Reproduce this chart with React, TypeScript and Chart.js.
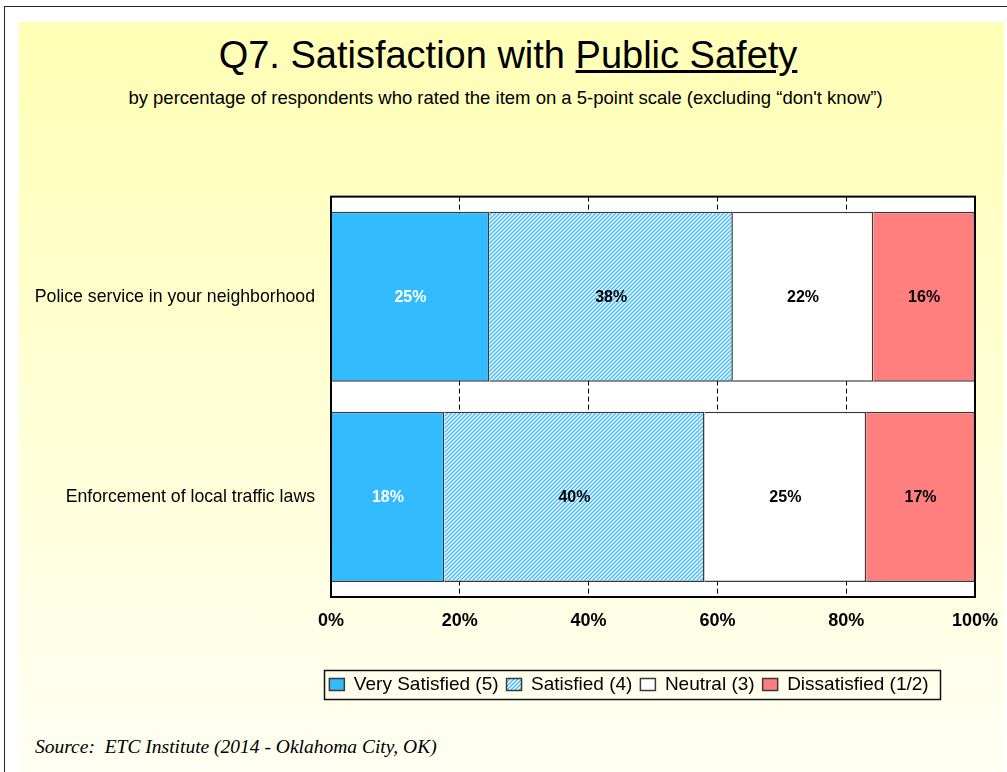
import React, { useEffect, useRef } from "react";
import { Chart, registerables } from "chart.js";

Chart.register(...registerables);

const categories = ["Police service in your neighborhood", "Enforcement of local traffic laws"];
const seriesLabels = ["Very Satisfied (5)", "Satisfied (4)", "Neutral (3)", "Dissatisfied (1/2)"];
const verySatisfied = [24.6, 17.6];
const satisfied = [37.8, 40.4];
const neutral = [21.8, 25.1];
const dissatisfied = [15.8, 16.9];
const xTickValues = [0, 20, 40, 60, 80, 100];

const FONT = "Arial, 'Liberation Sans', sans-serif";
const LEGEND_CENTER_X = 610; // canvas px

function makeHatch(): CanvasPattern | string {
  const c = document.createElement("canvas");
  c.width = 4;
  c.height = 4;
  const g = c.getContext("2d");
  if (!g) return "#33bbff";
  g.fillStyle = "#ffffff";
  g.fillRect(0, 0, 4, 4);
  g.strokeStyle = "#33bbff";
  g.lineWidth = 1.3;
  g.beginPath();
  g.moveTo(-1, 5);
  g.lineTo(5, -1);
  g.moveTo(-1, 1);
  g.lineTo(1, -1);
  g.moveTo(3, 5);
  g.lineTo(5, 3);
  g.stroke();
  const p = g.createPattern(c, "repeat");
  return p || "#33bbff";
}

const framePlugin = {
  id: "frame",
  afterLayout(chart: any) {
    const lg = chart.legend;
    if (lg) {
      const shift = LEGEND_CENTER_X - (lg.left + lg.right) / 2;
      lg.left += shift;
      lg.right += shift;
    }
  },
  beforeDraw(chart: any) {
    const { ctx, chartArea } = chart;
    ctx.save();
    ctx.fillStyle = "#ffffff";
    ctx.fillRect(chartArea.left, chartArea.top, chartArea.right - chartArea.left, chartArea.bottom - chartArea.top);
    ctx.restore();
  },
  afterDraw(chart: any) {
    const { ctx, chartArea } = chart;
    ctx.save();
    ctx.strokeStyle = "#000";
    ctx.lineWidth = 2;
    ctx.strokeRect(chartArea.left, chartArea.top, chartArea.right - chartArea.left, chartArea.bottom - chartArea.top);
    const lg = chart.legend;
    if (lg && lg.legendHitBoxes && lg.legendHitBoxes.length) {
      const hb = lg.legendHitBoxes;
      let l = Infinity, r = -Infinity, t = Infinity, b = -Infinity;
      hb.forEach((h: any) => {
        l = Math.min(l, h.left);
        r = Math.max(r, h.left + h.width);
        t = Math.min(t, h.top);
        b = Math.max(b, h.top + h.height);
      });
      const cy = (t + b) / 2;
      ctx.lineWidth = 1.5;
      ctx.strokeStyle = "#111";
      ctx.strokeRect(Math.round(l - 5) + 0.5, Math.round(cy - 14.5) + 0.5, Math.round(r - l + 17), 29);
    }
    ctx.restore();
  },
};

const valueLabelPlugin = {
  id: "valueLabels",
  afterDatasetsDraw(chart: any) {
    const ctx = chart.ctx;
    ctx.save();
    ctx.font = `bold 16px ${FONT}`;
    ctx.textAlign = "center";
    ctx.textBaseline = "middle";
    chart.data.datasets.forEach((ds: any, i: number) => {
      const meta = chart.getDatasetMeta(i);
      meta.data.forEach((el: any, j: number) => {
        const v = ds.data[j];
        const pt = el.getCenterPoint();
        ctx.fillStyle = i === 0 ? "#ffffff" : "#000000";
        ctx.fillText(Math.round(v) + "%", pt.x, pt.y + 1);
      });
    });
    ctx.restore();
  },
};

export default function App() {
  const ref = useRef<HTMLCanvasElement | null>(null);

  useEffect(() => {
    if (!ref.current) return;
    const hatch = makeHatch();
    const border = "#3a3a3a";
    const chart = new Chart(ref.current, {
      type: "bar",
      data: {
        labels: categories,
        datasets: [
          { label: seriesLabels[0], data: verySatisfied, backgroundColor: "#33bbff", borderColor: border, borderWidth: 1.5 },
          { label: seriesLabels[1], data: satisfied, backgroundColor: hatch as any, borderColor: border, borderWidth: 1.5 },
          { label: seriesLabels[2], data: neutral, backgroundColor: "#ffffff", borderColor: border, borderWidth: 1.5 },
          { label: seriesLabels[3], data: dissatisfied, backgroundColor: "#ff7f7f", borderColor: border, borderWidth: 1.5 },
        ],
      },
      options: {
        indexAxis: "y",
        responsive: false,
        maintainAspectRatio: false,
        animation: false,
        events: [],
        layout: { padding: { left: 0, right: 28, top: 26, bottom: 26 } },
        datasets: { bar: { categoryPercentage: 1, barPercentage: 0.85 } } as any,
        scales: {
          x: {
            stacked: true,
            min: 0,
            max: 100,
            afterBuildTicks: (s: any) => {
              s.ticks = xTickValues.map((v) => ({ value: v }));
            },
            afterFit: (s: any) => {
              s.height = 70;
              s.paddingLeft = 0;
              s.paddingRight = 0;
            },
            ticks: {
              callback: (v: any) => v + "%",
              font: { family: FONT, size: 18, weight: "bold" },
              color: "#000",
              padding: 13,
              maxRotation: 0,
            },
            grid: { color: "#000", lineWidth: 1, drawTicks: false },
            border: { display: true, color: "#000", width: 2, dash: [5, 3] },
          },
          y: {
            stacked: true,
            afterFit: (s: any) => {
              s.width = 312;
            },
            ticks: { font: { family: FONT, size: 17.7 }, color: "#000", padding: 16 },
            grid: { display: false, drawTicks: false },
            border: { display: true, color: "#000", width: 2 },
          },
        },
        plugins: {
          legend: {
            position: "bottom",
            labels: {
              boxWidth: 15,
              boxHeight: 12,
              font: { family: FONT, size: 19 },
              color: "#000",
              padding: 8,
            },
          },
          tooltip: { enabled: false },
          title: { display: false },
        },
      } as any,
      plugins: [framePlugin, valueLabelPlugin],
    });
    return () => chart.destroy();
  }, []);

  return (
    <div
      style={{
        position: "absolute",
        left: 0,
        top: 0,
        width: 1007,
        height: 772,
        background: "#ffffff",
        overflow: "hidden",
        fontFamily: FONT,
      }}
    >
      <div
        style={{
          position: "absolute",
          left: 4,
          top: 6,
          width: 1100,
          height: 900,
          borderLeft: "1px solid #222",
          borderTop: "1px solid #222",
        }}
      />
      <div
        style={{
          position: "absolute",
          left: 19,
          top: 22,
          width: 985,
          height: 760,
          background: "linear-gradient(#ffffb5, #fffff4)",
        }}
      />
      <div
        style={{
          position: "absolute",
          left: 12,
          width: 992,
          top: 36,
          fontSize: 38,
          lineHeight: "38px",
          textAlign: "center",
          color: "#000",
        }}
      >
        Q7. Satisfaction with <u>Public Safety</u>
      </div>
      <div
        style={{
          position: "absolute",
          left: 8,
          width: 995,
          top: 89,
          fontSize: 18.5,
          lineHeight: "18.5px",
          textAlign: "center",
          color: "#000",
          whiteSpace: "nowrap",
        }}
      >
        by percentage of respondents who rated the item on a 5-point scale (excluding “don't know”)
      </div>
      <canvas
        ref={ref}
        width={984}
        height={560}
        style={{ position: "absolute", left: 19, top: 170, width: 984, height: 560 }}
      />
      <div
        style={{
          position: "absolute",
          left: 35,
          top: 737,
          fontFamily: "'Liberation Serif', 'Times New Roman', serif",
          fontStyle: "italic",
          fontSize: 19.5,
          lineHeight: "19.5px",
          color: "#000",
          whiteSpace: "pre",
        }}
      >
        {"Source:  ETC Institute (2014 - Oklahoma City, OK)"}
      </div>
    </div>
  );
}
